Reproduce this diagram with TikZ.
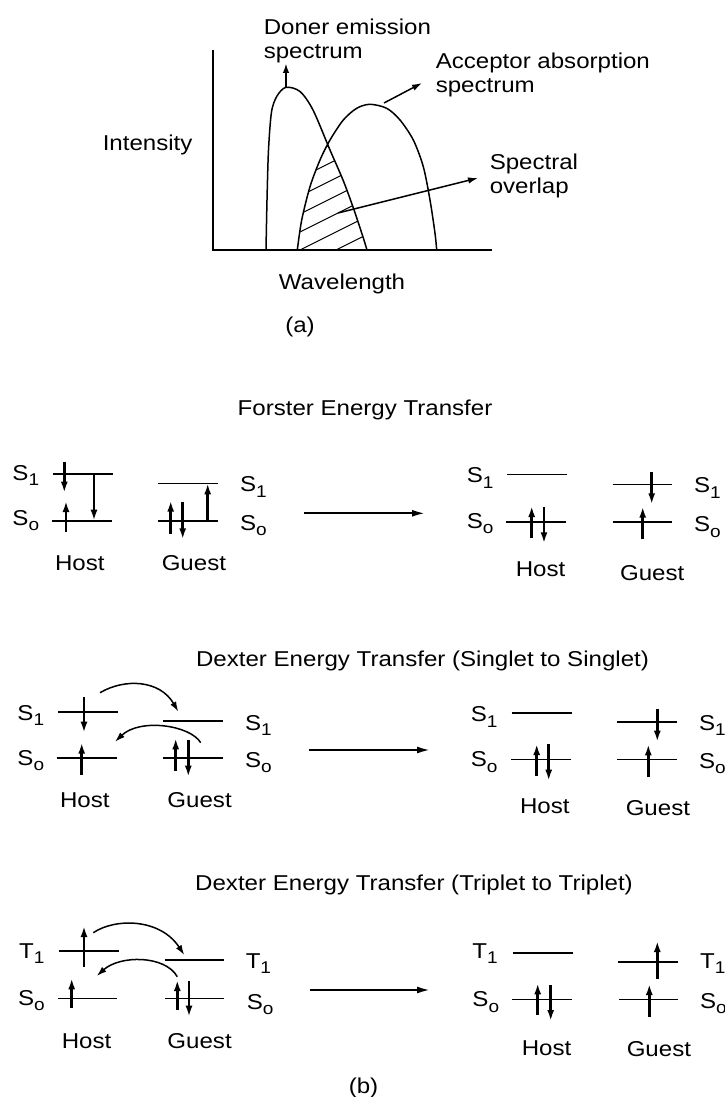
\documentclass[tikz,border=0pt]{standalone}
\usepackage{fontspec}
\setmainfont[FakeStretch=1.12]{Liberation Sans}
\usetikzlibrary{arrows.meta}
\newcommand{\enlev}[2]{#1\raisebox{-5.5pt}{\fontsize{17}{17}\selectfont #2}}

\begin{document}
\begin{tikzpicture}[x = 1pt, y = -1pt, line width = 1.5pt,
		lbl/.style = {inner sep = 0pt, font = \fontsize{21.5}{24}\selectfont},
		lvl/.style = {line width = 1.6pt},
		spin/.style = {line width = 2.5pt, -{Latex[length=11pt, width=7pt]}},
		xfer/.style = {line width = 2pt, -{Latex[length=13pt, width=7pt]}},
		hop/.style = {line width = 1.5pt, -{Latex[length=10pt, width=6.5pt]}}]
		\useasboundingbox (0,0) rectangle (725,1097);
		% (a) spectra
		\coordinate (ytop) at (213,50);
		\coordinate (orig) at (213,250);
		\coordinate (xend) at (492,250);
		\path [draw] (ytop) -- (orig) -- (xend);
		\path [draw, line width = 2.4pt] (247,250) -- (437,250);
		\path [draw] plot [smooth] coordinates {(266,250) (267,200) (268.5,150) (271.5,112) (277,96) (286,87.3) (300,91.5) (313,110) (330,150) (343,180) (353,207) (363,237) (367,250)};
		\path [draw] plot [smooth] coordinates {(297.3,250) (301.7,220) (310,186.7) (320,160) (330,140) (343.3,120) (356.7,108.3) (370,104.3) (386.7,108.3) (400,120) (413.3,140) (423.3,166.7) (430,200) (435,233.3) (436.7,250)};
		\begin{scope}
			\clip plot [smooth] coordinates {(297.3,250) (301.7,220) (310,186.7) (320,160) (330,140) (343.3,120) (356.7,108.3) (370,104.3) (386.7,108.3) (400,120) (413.3,140) (423.3,166.7) (430,200) (435,233.3) (436.7,250)} -- cycle;
			\clip plot [smooth] coordinates {(266,250) (267,200) (268.5,150) (271.5,112) (277,96) (286,87.3) (300,91.5) (313,110) (330,150) (343,180) (353,207) (363,237) (367,250)} -- cycle;
			\foreach \b in {170,188,...,300}
				\path [draw, line width = 1.1pt] (280,\b) -- ++(100,-50);
		\end{scope}
		\coordinate (dpk) at (286,87);
		\coordinate (dtip) at (286,63);
		\coordinate (apk) at (384,103);
		\coordinate (atip) at (422,83);
		\coordinate (ovl) at (338,213);
		\coordinate (otip) at (478,178);
		\path [draw, hop, line width = 2pt] (dpk) -- (dtip);
		\path [draw, hop] (apk) -- (atip);
		\path [draw, hop] (ovl) -- (otip);
		\node [lbl, anchor=north west, align=left] (donlbl) at (263,17.7) {Doner emission\\spectrum};
		\node [lbl, anchor=north west, align=left] (acclbl) at (435,52.6) {Acceptor absorption\\spectrum};
		\node [lbl, anchor=north west, align=left] (ovllbl) at (489,153) {Spectral\\overlap};
		\node [lbl, anchor=base west] (ylbl) at (102,150) {Intensity};
		\node [lbl, anchor=base] (xlbl) at (342,289) {Wavelength};
		\node [lbl, anchor=base] (taga) at (300,332) {(a)};
		% (b) Forster
		\node [lbl, anchor=base] (ftitle) at (365,415) {Forster Energy Transfer};
		\node [lbl, anchor=base west] (fhS1) at (11.7,480) {\enlev{S}{1}};
		\node [lbl, anchor=base west] (fhS0) at (11.7,525) {\enlev{S}{o}};
		\path [draw, lvl] (53,474) -- (113,474);
		\path [draw, lvl] (52,520.7) -- (112,520.7);
		\path [draw, spin] (64.3,461.7) -- (64.3,492.7);
		\path [draw, spin] (66,531.7) -- (66,501);
		\path [draw, spin] (94,474) -- (94,520.7);
		\path [draw, lvl] (158.3,483.3) -- (218.3,483.3);
		\path [draw, lvl] (158.3,520.7) -- (218.3,520.7);
		\path [draw, spin] (170.7,534) -- (170.7,500.7);
		\path [draw, spin] (182.7,501.7) -- (182.7,539.3);
		\path [draw, spin] (207.7,520.7) -- (207.7,483.3);
		\node [lbl, anchor=base west] (fgS1) at (239.3,491.7) {\enlev{S}{1}};
		\node [lbl, anchor=base west] (fgS0) at (239.3,530) {\enlev{S}{o}};
		\node [lbl, anchor=base west] (fhost) at (54.3,570) {Host};
		\node [lbl, anchor=base west] (fguest) at (161,570) {Guest};
		\coordinate (fa) at (304,513.3);
		\coordinate (fb) at (425,513.3);
		\path [draw, xfer] (fa) -- (fb);
		\node [lbl, anchor=base west] (frhS1) at (466,482.7) {\enlev{S}{1}};
		\node [lbl, anchor=base west] (frhS0) at (466,528.3) {\enlev{S}{o}};
		\path [draw, lvl] (507,474.3) -- (566.7,474.3);
		\path [draw, lvl] (506,521.7) -- (566,521.7);
		\path [draw, spin] (531.7,538.3) -- (531.7,506);
		\path [draw, spin] (544,506.7) -- (544,543.3);
		\path [draw, lvl] (612.7,484.3) -- (672.3,484.3);
		\path [draw, lvl] (612.7,521.7) -- (672.3,521.7);
		\path [draw, spin] (651.7,472.3) -- (651.7,504.3);
		\path [draw, spin] (642.7,539.3) -- (642.7,506.7);
		\node [lbl, anchor=base west] (frgS1) at (693.3,492.7) {\enlev{S}{1}};
		\node [lbl, anchor=base west] (frgS0) at (693.3,531.7) {\enlev{S}{o}};
		\node [lbl, anchor=base west] (frhost) at (515,576.7) {Host};
		\node [lbl, anchor=base west] (frguest) at (619.3,580) {Guest};
		% (b) Dexter, singlet
		\node [lbl, anchor=base] (stitle) at (422.5,666.7) {Dexter Energy Transfer (Singlet to Singlet)};
		\node [lbl, anchor=base west] (shS1) at (16.7,720) {\enlev{S}{1}};
		\node [lbl, anchor=base west] (shS0) at (16.7,765) {\enlev{S}{o}};
		\path [draw, lvl] (58.3,711.7) -- (118.3,711.7);
		\path [draw, lvl] (56.7,757.7) -- (116.7,757.7);
		\path [draw, spin] (84,696.7) -- (84,732.7);
		\path [draw, spin] (81.7,775) -- (81.7,742.7);
		\path [draw, lvl] (163.3,720.7) -- (223.3,720.7);
		\path [draw, lvl] (163.3,757.7) -- (223.3,757.7);
		\path [draw, spin] (175.7,770.7) -- (175.7,738.3);
		\path [draw, spin] (188.3,740) -- (188.3,776.7);
		\coordinate (s1a) at (100,692.7);
		\coordinate (s1b) at (178.3,711.7);
		\coordinate (s2a) at (200.7,742.7);
		\coordinate (s2b) at (115,741.7);
		\path [draw, hop] (s1a) .. controls (125,678) and (160,680) .. (s1b);
		\path [draw, hop] (s2a) .. controls (190,725) and (140,718) .. (s2b);
		\node [lbl, anchor=base west] (sgS1) at (244.3,730) {\enlev{S}{1}};
		\node [lbl, anchor=base west] (sgS0) at (244.3,767) {\enlev{S}{o}};
		\node [lbl, anchor=base west] (shost) at (59.3,807) {Host};
		\node [lbl, anchor=base west] (sguest) at (166.7,807) {Guest};
		\coordinate (sa) at (309.3,750);
		\coordinate (sb) at (430,750);
		\path [draw, xfer] (sa) -- (sb);
		\node [lbl, anchor=base west] (srhS1) at (470,721.7) {\enlev{S}{1}};
		\node [lbl, anchor=base west] (srhS0) at (470,766.7) {\enlev{S}{o}};
		\path [draw, lvl] (511.7,712.7) -- (571.7,712.7);
		\path [draw, lvl] (511,759.3) -- (571,759.3);
		\path [draw, spin] (536.7,776) -- (536.7,744);
		\path [draw, spin] (548.7,744.3) -- (548.7,780.7);
		\path [draw, lvl] (617.3,721.7) -- (676.7,721.7);
		\path [draw, lvl] (617.3,759.3) -- (676.7,759.3);
		\path [draw, spin] (657.3,709.3) -- (657.3,741.7);
		\path [draw, spin] (648.3,776.7) -- (648.3,744.3);
		\node [lbl, anchor=base west] (srgS1) at (698.3,730) {\enlev{S}{1}};
		\node [lbl, anchor=base west] (srgS0) at (698.3,768) {\enlev{S}{o}};
		\node [lbl, anchor=base west] (srhost) at (519.3,813) {Host};
		\node [lbl, anchor=base west] (srguest) at (625,815.7) {Guest};
		% (b) Dexter, triplet
		\node [lbl, anchor=base] (ttitle) at (414,890) {Dexter Energy Transfer (Triplet to Triplet)};
		\node [lbl, anchor=base west] (thT1) at (18.3,958.3) {\enlev{T}{1}};
		\node [lbl, anchor=base west] (thS0) at (17.3,1005) {\enlev{S}{o}};
		\path [draw, lvl] (59.3,951) -- (119,951);
		\path [draw, lvl] (58.3,998.3) -- (117.3,998.3);
		\path [draw, spin] (84,966.7) -- (84,926);
		\path [draw, spin] (71.7,1008.3) -- (71.7,978.3);
		\path [draw, lvl] (165,960) -- (224,960);
		\path [draw, lvl] (165,998.3) -- (224,998.3);
		\path [draw, spin] (177.3,1010) -- (177.3,980);
		\path [draw, spin] (189,980.7) -- (189,1016.7);
		\coordinate (t1a) at (93.3,932.7);
		\coordinate (t1b) at (184.3,955);
		\coordinate (t2a) at (177.3,976.7);
		\coordinate (t2b) at (96.7,976);
		\path [draw, hop] (t1a) .. controls (115,918) and (160,918) .. (t1b);
		\path [draw, hop] (t2a) .. controls (165,955) and (120,955) .. (t2b);
		\node [lbl, anchor=base west] (tgT1) at (245,968.3) {\enlev{T}{1}};
		\node [lbl, anchor=base west] (tgS0) at (246,1009.3) {\enlev{S}{o}};
		\node [lbl, anchor=base west] (thost) at (61,1048.3) {Host};
		\node [lbl, anchor=base west] (tguest) at (166.7,1048.3) {Guest};
		\coordinate (ta) at (310,990);
		\coordinate (tb) at (430,990);
		\path [draw, xfer] (ta) -- (tb);
		\node [lbl, anchor=base west] (trhT1) at (471.7,958.3) {\enlev{T}{1}};
		\node [lbl, anchor=base west] (trhS0) at (471.7,1006.7) {\enlev{S}{o}};
		\path [draw, lvl] (512.7,952.7) -- (573.3,952.7);
		\path [draw, lvl] (512.3,999.3) -- (571.7,999.3);
		\path [draw, spin] (537.7,1015) -- (537.7,983.3);
		\path [draw, spin] (550.7,985) -- (550.7,1021);
		\path [draw, lvl] (618.3,961.7) -- (678.3,961.7);
		\path [draw, lvl] (619,999.3) -- (678.3,999.3);
		\path [draw, spin] (657.3,979.3) -- (657.3,941);
		\path [draw, spin] (649.3,1016.7) -- (649.3,984);
		\node [lbl, anchor=base west] (trgT1) at (699.3,968.3) {\enlev{T}{1}};
		\node [lbl, anchor=base west] (trgS0) at (699.3,1008.3) {\enlev{S}{o}};
		\node [lbl, anchor=base west] (trhost) at (521,1055) {Host};
		\node [lbl, anchor=base west] (trguest) at (626,1056.7) {Guest};
		\node [lbl, anchor=base west] (tagb) at (348,1093) {(b)};
	\end{tikzpicture}
\end{document}
